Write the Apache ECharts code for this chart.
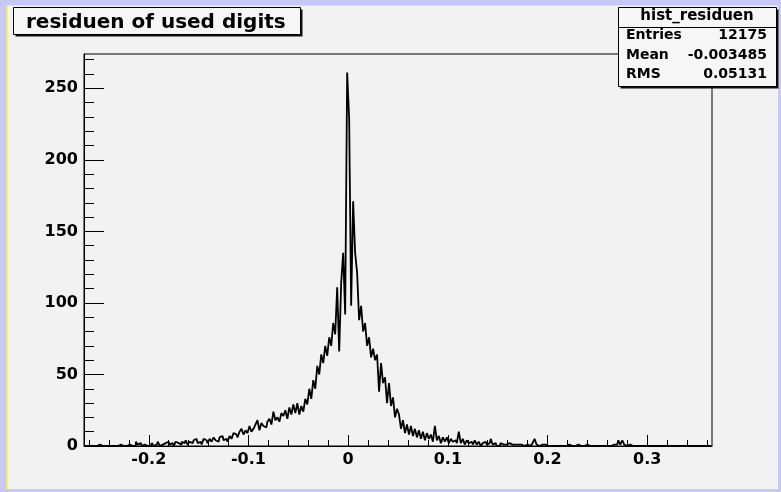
<!DOCTYPE html>
<html>
<head>
<meta charset="utf-8">
<script src="https://cdn.jsdelivr.net/npm/echarts@6/dist/echarts.min.js"></script>
<style>
  html, body { margin: 0; padding: 0; width: 781px; height: 492px; overflow: hidden; background: #c8c8f6; }
  #panel { position: absolute; left: 6px; top: 5px; width: 772px; height: 484px; background: #f2f2f2; border-top: 1px solid #f4f060; border-left: 2px solid #f4f060; box-sizing: border-box; }
  #chart { position: absolute; left: 0; top: 0; width: 781px; height: 492px; }
</style>
</head>
<body>
<div id="panel"></div>
<div id="chart"></div>
<script>
// ---- histogram definition ----
const binLow = -0.265;      // lower edge of the first bin
const binWidth = 0.002;     // width of each bin
// counts per bin, left to right
const tailLeft = [0,0,0,0,0,0,0,1,0,0, 0,0,0,0,0,0,0,1,1,0, 0,0,1,0,0,0,3,1,2,0, 1,0,1];
const riseLeft = [0,2,0,1,3,0,1,2,1,3, 1,2,0,3,2,1,3,2,4,1,
                  3,2,4,5,2,3,1,5,4,2, 5,3,6,4,3,6,7,4,5,3,
                  7,5,9,8,6,10,12,8,11,9, 14,10,12,15,18,11,16,14,13,17,
                  19,15,24,18,20,17,23,21,25,19, 27,22,29,23];
const coreLeft = [30,22,28,24,33,29,40,33,46,40, 56,50,64,58,70,63,76,70,86,78, 111,66,114,135,92];
const coreRight = [261,229,98,171,135,121,88,98,80,86, 70,76,62,68,60,64,38,58,44,48, 30,44,28,34,20,26];
const tailRight = [22,12,18,9,15,8,14,7,12,6, 11,5,10,4,9,5,8,3,14,4,
                   7,2,6,3,6,2,5,3,4,2, 10,2,5,1,4,2,3,1,4,1,
                   3,0,2,3,1,2,5,1,2,0, 0,2,1,1,0,2,1,0,1,1,
                   0,1,0,1,1,0,1,2,5,1, 0,1,0,1,0,1,0,0,1,0,
                   0,1,0,0,0,1,0,0,0,1, 0,0,0,0,1,0,0,0,0,1,
                   0,0,1,0,0,0,0,1,0,1, 4,1,4,1,0,1,0,0,0,0,
                   0,0,0,0,0,0,0,0,0,0, 0,0,0,0,0,0,0,0,0,0,
                   0,0,0,0,0,0,0,0,0,0, 0,0,0,0,0,0,0];
const counts = [].concat(tailLeft, riseLeft, coreLeft, coreRight, tailRight);

// axes
const xMin = -0.265, xMax = 0.365;
const yMin = 0, yMax = 274;
const xMajorTicks = [-0.2, -0.1, 0, 0.1, 0.2, 0.3];
const xMinorTicks = [-0.26,-0.24,-0.22,-0.18,-0.16,-0.14,-0.12,-0.08,-0.06,-0.04,-0.02,0.02,0.04,0.06,0.08,0.12,0.14,0.16,0.18,0.22,0.24,0.26,0.28,0.32,0.34,0.36];
const yMajorTicks = [0, 50, 100, 150, 200, 250];
const yMinorTicks = [10,20,30,40,60,70,80,90,110,120,130,140,160,170,180,190,210,220,230,240,260,270];

// texts
const titleText = 'residuen of used digits';
const statsName = 'hist_residuen';
const statsRows = [['Entries', '12175'], ['Mean', '-0.003485'], ['RMS', '0.05131']];

const data = counts.map((c, i) => [binLow + binWidth * (i + 0.5), c]);

const FONT = '"DejaVu Sans", "Liberation Sans", sans-serif';
const chart = echarts.init(document.getElementById('chart'), null, { renderer: 'canvas' });

const graphics = [
  { type: 'rect', z: 100, shape: { x: 15.5, y: 9.5, width: 287, height: 27 }, style: { fill: '#111' } },
  { type: 'rect', z: 101, shape: { x: 13.5, y: 7.5, width: 287, height: 27 }, style: { fill: '#f6f6f6', stroke: '#000', lineWidth: 1 } },
  { type: 'text', z: 102, x: 26, y: 23, style: { text: titleText, font: 'bold 20px ' + FONT, fill: '#000', verticalAlign: 'middle', align: 'left' } },
  { type: 'rect', z: 100, shape: { x: 620.5, y: 9.5, width: 158, height: 79 }, style: { fill: '#111' } },
  { type: 'rect', z: 101, shape: { x: 618.5, y: 7.5, width: 158, height: 79 }, style: { fill: '#f6f6f6', stroke: '#000', lineWidth: 1 } },
  { type: 'line', z: 102, shape: { x1: 618.5, y1: 27.5, x2: 776.5, y2: 27.5 }, style: { stroke: '#000', lineWidth: 1 } },
  { type: 'text', z: 102, x: 697, y: 16, style: { text: statsName, font: 'bold 15px ' + FONT, fill: '#000', verticalAlign: 'middle', align: 'center' } }
];
const rowY = [35, 55, 74];
statsRows.forEach((r, i) => {
  graphics.push({ type: 'text', z: 102, x: 626, y: rowY[i], style: { text: r[0], font: 'bold 14px ' + FONT, fill: '#000', verticalAlign: 'middle', align: 'left' } });
  graphics.push({ type: 'text', z: 102, x: 767, y: rowY[i], style: { text: r[1], font: 'bold 14px ' + FONT, fill: '#000', verticalAlign: 'middle', align: 'right' } });
});

const labelStyle = { color: '#000', fontFamily: FONT, fontWeight: 'bold', fontSize: 16 };

chart.setOption({
  animation: false,
  backgroundColor: 'transparent',
  grid: { left: 84, top: 54, right: 69, bottom: 46, show: true, borderColor: '#000', borderWidth: 1, backgroundColor: 'transparent' },
  xAxis: [
    {
      type: 'value', min: xMin, max: xMax, position: 'bottom',
      axisLine: { show: true, onZero: false, lineStyle: { color: '#000', width: 1 } },
      axisTick: { show: true, inside: true, length: 11, customValues: xMajorTicks, lineStyle: { color: '#000' } },
      axisLabel: { show: true, customValues: xMajorTicks, margin: 6, ...labelStyle,
        formatter: v => String(parseFloat(Number(v).toFixed(1))) },
      splitLine: { show: false }
    },
    {
      type: 'value', min: xMin, max: xMax, position: 'bottom', offset: 0,
      axisLine: { show: false, onZero: false },
      axisTick: { show: true, inside: true, length: 6, customValues: xMinorTicks, lineStyle: { color: '#000' } },
      axisLabel: { show: false },
      splitLine: { show: false }
    }
  ],
  yAxis: [
    {
      type: 'value', min: yMin, max: yMax, position: 'left',
      axisLine: { show: true, onZero: false, lineStyle: { color: '#000', width: 1 } },
      axisTick: { show: true, inside: true, length: 20, customValues: yMajorTicks, lineStyle: { color: '#000' } },
      axisLabel: { show: true, customValues: yMajorTicks, margin: 6, ...labelStyle },
      splitLine: { show: false }
    },
    {
      type: 'value', min: yMin, max: yMax, position: 'left', offset: 0,
      axisLine: { show: false, onZero: false },
      axisTick: { show: true, inside: true, length: 10, customValues: yMinorTicks, lineStyle: { color: '#000' } },
      axisLabel: { show: false },
      splitLine: { show: false }
    }
  ],
  series: [{
    type: 'line', xAxisIndex: 0, yAxisIndex: 0, step: 'middle', data: data,
    showSymbol: false, symbol: 'none', clip: true,
    lineStyle: { color: '#000', width: 1.8 }
  }],
  graphic: graphics
});
</script>
</body>
</html>
